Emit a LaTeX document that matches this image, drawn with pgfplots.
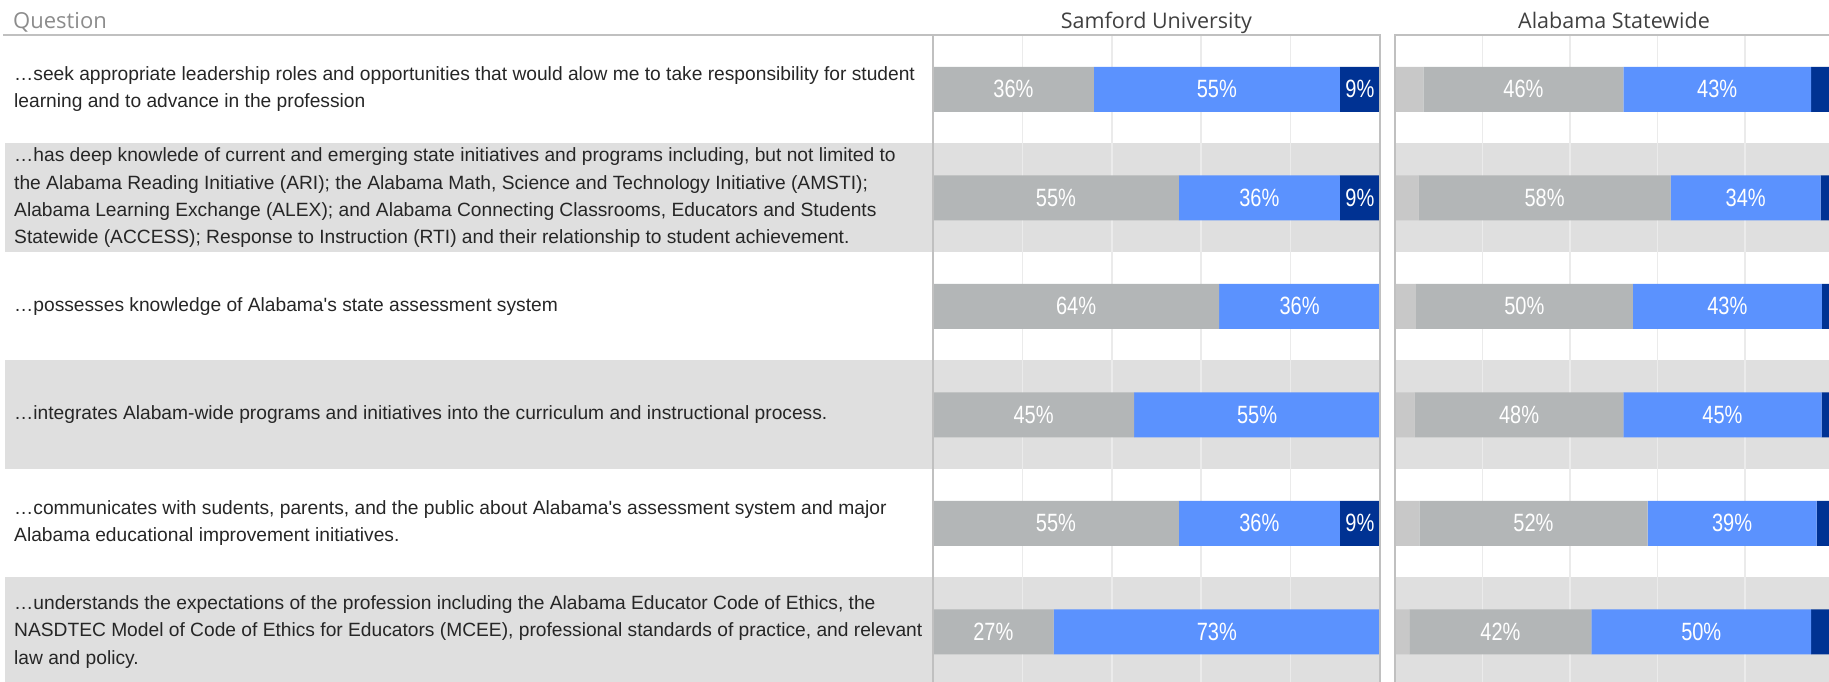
\documentclass[border=0pt]{standalone}
\usepackage{pgfplots}
\pgfplotsset{compat=1.18}
\usepackage{pgfplotstable}
\usepackage{fontspec}
\setmainfont{Liberation Sans}
\newfontfamily\qfont{Liberation Sans}
\newfontfamily\lfont[FakeStretch=0.8]{Liberation Sans}
\newfontfamily\hfont{Open Sans}
\definecolor{bandc}{HTML}{DFDFDF}
\definecolor{gridc}{HTML}{EBEBEB}
\definecolor{borderc}{HTML}{C0C0C0}
\definecolor{cLG}{HTML}{C8C8C8}
\definecolor{cG}{HTML}{B3B6B7}
\definecolor{cB}{HTML}{5B92FE}
\definecolor{cDB}{HTML}{003293}
\definecolor{txt}{HTML}{262626}
\definecolor{ttl}{HTML}{404040}
\definecolor{qcol}{HTML}{8C8C8C}

\pgfplotstableread[col sep=comma]{
row,lg,g,b,db
1,0,36,55,9
2,0,55,36,9
3,0,64,36,0
4,0,45,55,0
5,0,55,36,9
6,0,27,73,0
}\samford
\pgfplotstableread[col sep=comma]{
row,lg,g,b,db
1,6.5,45.7,42.9,4.9
2,5.4,57.6,34.3,2.7
3,4.75,49.6,43.2,2.45
4,4.5,47.7,45.3,2.5
5,5.55,52.2,38.6,3.65
6,3.3,41.6,50.2,4.9
}\alabama

\pgfplotsset{
  panel/.style={
    xbar stacked, scale only axis, height=651pt,
    anchor=south west,
    y dir=reverse, ymin=0.5, ymax=6.5,
    xmin=0, xmax=100,
    ytick=\empty, xtick={20,40,60,80}, xticklabels={},
    major tick length=0pt,
    xmajorgrids, grid style={gridc, line width=1.5pt},
    axis line style={draw=none},
    bar width=45pt,
  },
  seg/.style 2 args={fill=#1, draw=none,
    visualization depends on={\thisrow{#2}\as\rawv},
    nodes near coords={\ifdim\rawv pt<7pt\relax\else\pgfmathprintnumber[fixed,precision=0,assume math mode=true]{\rawv}\%\fi},
    every node near coord/.append style={anchor=center, text=white,
      font=\lfont\fontsize{25}{25}\selectfont, inner sep=0pt}},
}

\begin{document}
\begin{tikzpicture}
\useasboundingbox (0,0) rectangle (1829pt,682pt);
\clip (0,0) rectangle (1829pt,682pt);
% bands
\foreach \lo/\hi in {430/538.5, 213/321.5, -4/104.5}{
  \fill[bandc] (5pt,\lo pt) rectangle (1380pt,\hi pt);
  \fill[bandc] (1395pt,\lo pt) rectangle (1840pt,\hi pt);
}
\begin{axis}[panel, at={(933pt,-4pt)}, width=447pt]
\addplot[seg={cLG}{lg}] table[x=lg, y=row]{\samford};
\addplot[seg={cG}{g}] table[x=g, y=row]{\samford};
\addplot[seg={cB}{b}] table[x=b, y=row]{\samford};
\addplot[seg={cDB}{db}] table[x=db, y=row]{\samford};
\end{axis}
\begin{axis}[panel, at={(1395pt,-4pt)}, width=437.5pt]
\addplot[seg={cLG}{lg}] table[x=lg, y=row]{\alabama};
\addplot[seg={cG}{g}] table[x=g, y=row]{\alabama};
\addplot[seg={cB}{b}] table[x=b, y=row]{\alabama};
\addplot[seg={cDB}{db}] table[x=db, y=row]{\alabama};
\end{axis}
% borders
\draw[borderc, line width=1.5pt] (933pt,-4pt) -- (933pt,647pt) -- (1380pt,647pt) -- (1380pt,-4pt);
\draw[borderc, line width=1.5pt] (3pt,647pt) -- (933pt,647pt);
\draw[borderc, line width=1.5pt] (1395pt,-4pt) -- (1395pt,647pt) -- (1840pt,647pt);
% titles
\node[anchor=base west, inner sep=0pt, text=qcol, font=\hfont\fontsize{22}{22}\selectfont] at (13pt,653.7pt) {Question};
\node[anchor=base, inner sep=0pt, text=ttl, font=\hfont\fontsize{21.5}{21.5}\selectfont] at (1156.5pt,653.7pt) {Samford University};
\node[anchor=base, inner sep=0pt, text=ttl, font=\hfont\fontsize{21.5}{21.5}\selectfont] at (1614pt,653.7pt) {Alabama Statewide};
% question texts
\tikzset{qtext/.style={anchor=west, align=left, inner sep=0pt, text=txt, font=\qfont\fontsize{19.2}{27.4}\selectfont}}
\node[qtext] at (14pt,592.75pt) {…seek appropriate leadership roles and opportunities that would alow me to take responsibility for student\\learning and to advance in the profession};
\node[qtext] at (14pt,484.25pt) {…has deep knowlede of current and emerging state initiatives and programs including, but not limited to\\the Alabama Reading Initiative (ARI); the Alabama Math, Science and Technology Initiative (AMSTI);\\Alabama Learning Exchange (ALEX); and Alabama Connecting Classrooms, Educators and Students\\Statewide (ACCESS); Response to Instruction (RTI) and their relationship to student achievement.};
\node[qtext] at (14pt,375.75pt) {…possesses knowledge of Alabama's state assessment system};
\node[qtext] at (14pt,267.25pt) {…integrates Alabam-wide programs and initiatives into the curriculum and instructional process.};
\node[qtext] at (14pt,158.75pt) {…communicates with sudents, parents, and the public about Alabama's assessment system and major\\Alabama educational improvement initiatives.};
\node[qtext] at (14pt,50.25pt) {…understands the expectations of the profession including the Alabama Educator Code of Ethics, the\\NASDTEC Model of Code of Ethics for Educators (MCEE), professional standards of practice, and relevant\\law and policy.};
\end{tikzpicture}
\end{document}
